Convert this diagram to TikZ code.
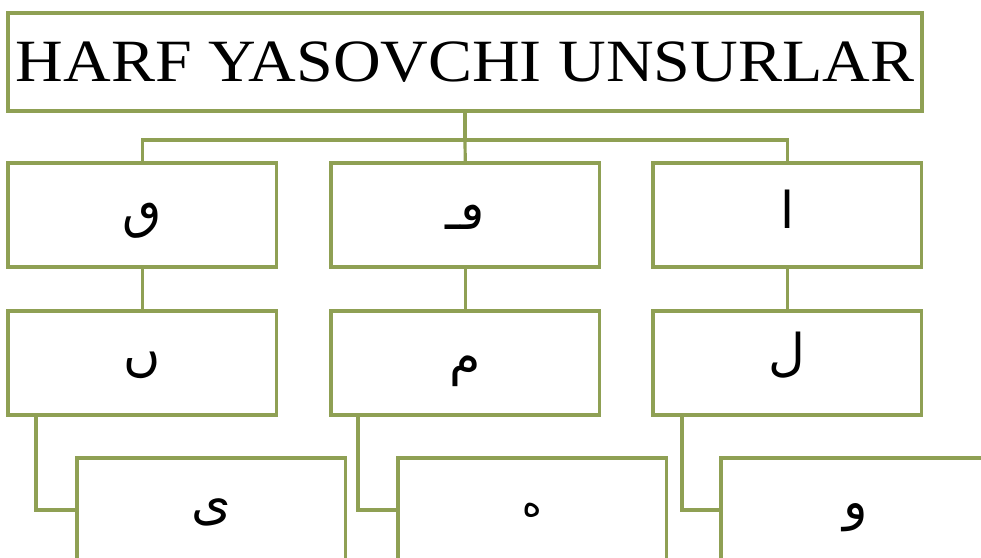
\documentclass[tikz,border=0pt]{standalone}
\usepackage{fontspec}
\setmainfont{Liberation Serif}
\newfontfamily\arabicfont[Script=Arabic]{DejaVu Sans}
\TeXXeTstate=1
\definecolor{boxgreen}{RGB}{143,160,84}
\begin{document}
\begin{tikzpicture}[x=0.75pt,y=-0.75pt,
  box/.style={draw=boxgreen,line width=2.4pt,fill=white,minimum width=268.5*0.75pt,minimum height=104*0.75pt,inner sep=0pt,outer sep=0pt,anchor=north west},
  titlebox/.style={draw=boxgreen,line width=2.4pt,fill=white,minimum width=914*0.75pt,minimum height=98*0.75pt,inner sep=0pt,outer sep=0pt,anchor=north west,font=\fontsize{45}{48}\selectfont},
  letter/.style={font=\arabicfont\fontsize{38}{42}\selectfont},
  conn/.style={draw=boxgreen,line width=2.4pt}]
\clip (0,0) rectangle (981,557);
\fill[white] (0,0) rectangle (981,557);
% title
\node[titlebox] (top) at (8,13) {\scalebox{1.1}[1]{HARF YASOVCHI UNSURLAR}};
% row 1
\node[box] (a1) at (8,163) {};
\node[box] (b1) at (331,163) {};
\node[box] (c1) at (653,163) {};
% row 2
\node[box] (a2) at (8,311) {};
\node[box] (b2) at (331,311) {};
\node[box] (c2) at (653,311) {};
% row 3
\node[box] (a3) at (77,458) {};
\node[box] (b3) at (398,458) {};
\node[box] (c3) at (721,458) {};
% letters
\node[letter] (la1) at ([yshift=-4pt]a1.center) {\beginR ٯ\endR};
\node[letter] (lb1) at ([yshift=-2pt]b1.center) {\beginR ڡـ\endR};
\node[letter] (lc1) at ([yshift=4pt]c1.center) {\beginR ا\endR};
\node[letter] (la2) at ([yshift=-2pt]a2.center) {\beginR ں\endR};
\node[letter] (lb2) at ([yshift=-6pt]b2.center) {\beginR م\endR};
\node[letter] (lc2) at ([yshift=6pt]c2.center) {\beginR ل\endR};
\node[letter] (la3) at ([yshift=-2pt]a3.center) {\beginR ی\endR};
\node[letter,font=\arabicfont\fontsize{28}{32}\selectfont] (lb3) at ([yshift=0pt]b3.center) {\beginR ه\endR};
\node[letter] (lc3) at ([yshift=-6pt]c3.center) {\beginR و\endR};
% connectors
\coordinate (bar) at (465,140);
\draw[conn] (top.south) -- (bar);
\draw[conn] (a1.north) |- (bar) -| (c1.north);
\draw[conn] (bar) -- (b1.north);
\draw[conn] (a1.south) -- (a2.north);
\draw[conn] (b1.south) -- (b2.north);
\draw[conn] (c1.south) -- (c2.north);
\draw[conn] ([xshift=28*0.75pt]a2.south west) |- (a3.west);
\draw[conn] ([xshift=27*0.75pt]b2.south west) |- (b3.west);
\draw[conn] ([xshift=29*0.75pt]c2.south west) |- (c3.west);
\end{tikzpicture}
\end{document}
